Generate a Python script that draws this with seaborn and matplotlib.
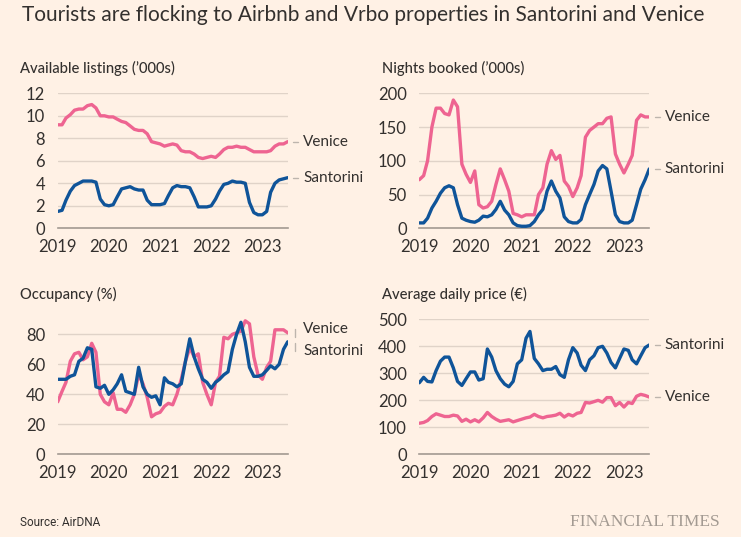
import matplotlib
matplotlib.use("Agg")
import matplotlib.pyplot as plt
import matplotlib.dates as mdates
import pandas as pd
import seaborn as sns

# monthly, Jan 2019 - Jul 2023
months = pd.date_range("2019-01-01", periods=55, freq="MS")

listings_venice = [
    9.2, 9.2, 9.8, 10.1, 10.5, 10.6, 10.6, 10.9, 11.0, 10.7, 10.0, 10.0,
    9.9, 9.9, 9.7, 9.5, 9.4, 9.1, 8.8, 8.7, 8.7, 8.4, 7.7, 7.6,
    7.5, 7.3, 7.4, 7.5, 7.4, 6.9, 6.8, 6.8, 6.6, 6.3, 6.2, 6.3,
    6.4, 6.3, 6.6, 7.0, 7.2, 7.2, 7.3, 7.2, 7.2, 7.0, 6.8, 6.8,
    6.8, 6.8, 6.9, 7.3, 7.5, 7.5, 7.7,
]
listings_santorini = [
    1.5, 1.6, 2.5, 3.3, 3.8, 4.0, 4.2, 4.2, 4.2, 4.1, 2.6, 2.1,
    2.0, 2.1, 2.8, 3.5, 3.6, 3.7, 3.5, 3.4, 3.4, 2.5, 2.1, 2.1,
    2.1, 2.2, 2.9, 3.6, 3.8, 3.7, 3.7, 3.6, 2.8, 1.9, 1.9, 1.9,
    2.0, 2.6, 3.3, 3.9, 4.0, 4.2, 4.1, 4.1, 4.0, 2.3, 1.4, 1.2,
    1.2, 1.5, 3.2, 4.0, 4.3, 4.4, 4.5,
]
nights_venice = [
    72, 78, 100, 150, 178, 178, 170, 168, 190, 180, 95, 80,
    68, 85, 35, 30, 32, 40, 65, 88, 72, 55, 22, 20,
    17, 20, 20, 20, 50, 60, 95, 115, 102, 108, 70, 62,
    47, 60, 78, 135, 145, 150, 155, 155, 163, 165, 110, 95,
    82, 95, 108, 160, 168, 165, 165,
]
nights_santorini = [
    8, 8, 15, 30, 40, 52, 60, 63, 60, 35, 15, 12,
    10, 9, 12, 18, 17, 20, 28, 40, 27, 20, 8, 4,
    3, 3, 4, 10, 20, 28, 55, 70, 55, 45, 17, 10,
    8, 8, 13, 35, 50, 65, 85, 93, 88, 55, 20, 10,
    8, 8, 12, 35, 58, 72, 88,
]
occupancy_venice = [
    35, 42, 48, 62, 67, 68, 63, 65, 74, 68, 40, 35,
    33, 41, 30, 30, 28, 33, 40, 53, 47, 38, 25, 27,
    28, 32, 34, 33, 40, 50, 62, 71, 65, 67, 48, 40,
    33, 48, 52, 78, 77, 80, 81, 82, 89, 87, 65, 53,
    50, 58, 62, 83, 83, 83, 81,
]
occupancy_santorini = [
    50, 50, 50, 52, 53, 62, 64, 71, 70, 45, 44, 46,
    40, 43, 47, 53, 42, 41, 40, 58, 45, 40, 38, 39,
    33, 51, 48, 47, 45, 47, 62, 77, 65, 57, 50, 48,
    44, 48, 50, 53, 55, 70, 80, 88, 75, 58, 52, 52,
    53, 56, 59, 57, 60, 70, 75,
]
price_venice = [
    115, 118, 125, 140, 150, 145, 140, 140, 145, 142, 122, 130,
    120, 128, 120, 135, 155, 140, 130, 122, 125, 128, 120, 125,
    130, 135, 138, 148, 140, 135, 140, 142, 145, 152, 138, 148,
    142, 152, 155, 192, 190, 195, 200, 193, 210, 210, 180, 192,
    175, 192, 188, 215, 222, 218, 212,
]
price_santorini = [
    265, 285, 270, 268, 310, 345, 360, 360, 320, 270, 255, 280,
    305, 305, 275, 280, 390, 360, 310, 280, 260, 250, 270, 335,
    350, 430, 455, 355, 335, 310, 315, 315, 325, 295, 285, 350,
    395, 375, 330, 310, 350, 365, 395, 400, 375, 340, 320, 355,
    390, 385, 350, 335, 365, 395, 405,
]

panel_titles = ["Available listings (\u2019000s)", "Nights booked (\u2019000s)",
                "Occupancy (%)", "Average daily price (\u20ac)"]

BG = "#FFF1E5"
PINK = "#EE6491"
BLUE = "#0F5499"
TEXT = "#33302E"
GRID = "#E0D3C8"
SPINE = "#A39A92"

sns.set_theme(style="white")
plt.rcParams["font.family"] = ["Lato", "DejaVu Sans"]

fig = plt.figure(figsize=(7.41, 5.37), dpi=100, facecolor=BG)

W, H = 741, 537
boxes = [
    (57.7, 93.3), (419.3, 93.3),
    (57.7, 319.3), (419.3, 319.3),
]
panels = [
    (listings_venice, listings_santorini, (0, 12), [0, 2, 4, 6, 8, 10, 12]),
    (nights_venice, nights_santorini, (0, 200), [0, 50, 100, 150, 200]),
    (occupancy_venice, occupancy_santorini, (0, 90), [0, 20, 40, 60, 80]),
    (price_venice, price_santorini, (0, 500), [0, 100, 200, 300, 400, 500]),
]

for i, ((x0, y0), (ven, san, ylim, yticks)) in enumerate(zip(boxes, panels)):
    ax = fig.add_axes([x0 / W, 1 - (y0 + 135) / H, 230 / W, 135 / H])
    ax.set_facecolor(BG)
    df = pd.DataFrame({"month": list(months) * 2,
                       "value": ven + san,
                       "city": ["Venice"] * 55 + ["Santorini"] * 55})
    sns.lineplot(data=df, x="month", y="value", hue="city",
                 palette={"Venice": PINK, "Santorini": BLUE},
                 linewidth=2.4, legend=False, ax=ax, zorder=3)
    ax.set_ylim(*ylim)
    ax.set_yticks(yticks)
    ax.set_xlim(months[0], months[-1])
    ax.xaxis.set_major_locator(mdates.YearLocator())
    ax.xaxis.set_major_formatter(mdates.DateFormatter("%Y"))
    ax.grid(axis="y", color=GRID, linewidth=1, zorder=0)
    for s in ["top", "right", "left"]:
        ax.spines[s].set_visible(False)
    ax.spines["bottom"].set_color(SPINE)
    ax.spines["bottom"].set_linewidth(1.2)
    ax.tick_params(axis="x", colors=SPINE, length=6, width=1, labelcolor=TEXT,
                   labelsize=12, pad=2)
    ax.tick_params(axis="y", length=0, labelcolor=TEXT, labelsize=12, pad=9)
    ax.set_xlabel("")
    ax.set_ylabel("")
    ax.text(-37.7 / 230, 1 + 25 / 135, panel_titles[i], transform=ax.transAxes,
            fontsize=10.6, color=TEXT, ha="left", va="center", fontweight="medium")

    # end labels
    if i == 2:
        label_pos = {"Venice": 83.5, "Santorini": 69}
    else:
        label_pos = {"Venice": ven[-1], "Santorini": san[-1]}
    for city in ["Venice", "Santorini"]:
        ypos = label_pos[city]
        ax.annotate(city, xy=(1, ypos), xycoords=("axes fraction", "data"),
                    xytext=(11, 0), textcoords="offset points",
                    fontsize=11, color=TEXT, va="center", ha="left",
                    annotation_clip=False)
        if i == 2:
            ax.plot([1.033, 1.033], [ypos - 5 if city == "Venice" else ypos + 5, ypos],
                    transform=ax.get_yaxis_transform(), color="#BDB5AD",
                    linewidth=1, clip_on=False)
        else:
            ax.plot([1.025, 1.045], [ypos, ypos],
                    transform=ax.get_yaxis_transform(), color="#BDB5AD",
                    linewidth=1, clip_on=False)

fig.text(22 / W, 1 - 15 / H, "Tourists are flocking to Airbnb and Vrbo properties in Santorini and Venice",
         fontsize=15, color=TEXT, ha="left", va="center")
fig.text(20 / W, 1 - 522 / H, "Source: AirDNA", fontsize=8.5, color=TEXT,
         ha="left", va="center", family=["Roboto", "DejaVu Sans"], stretch="condensed")
fig.text(720 / W, 1 - 522 / H, "FINANCIAL TIMES", fontsize=12.5, color="#A39A92",
         ha="right", va="center", family=["Liberation Serif", "DejaVu Serif"])

fig.savefig("out.png", dpi=100, facecolor=BG)
